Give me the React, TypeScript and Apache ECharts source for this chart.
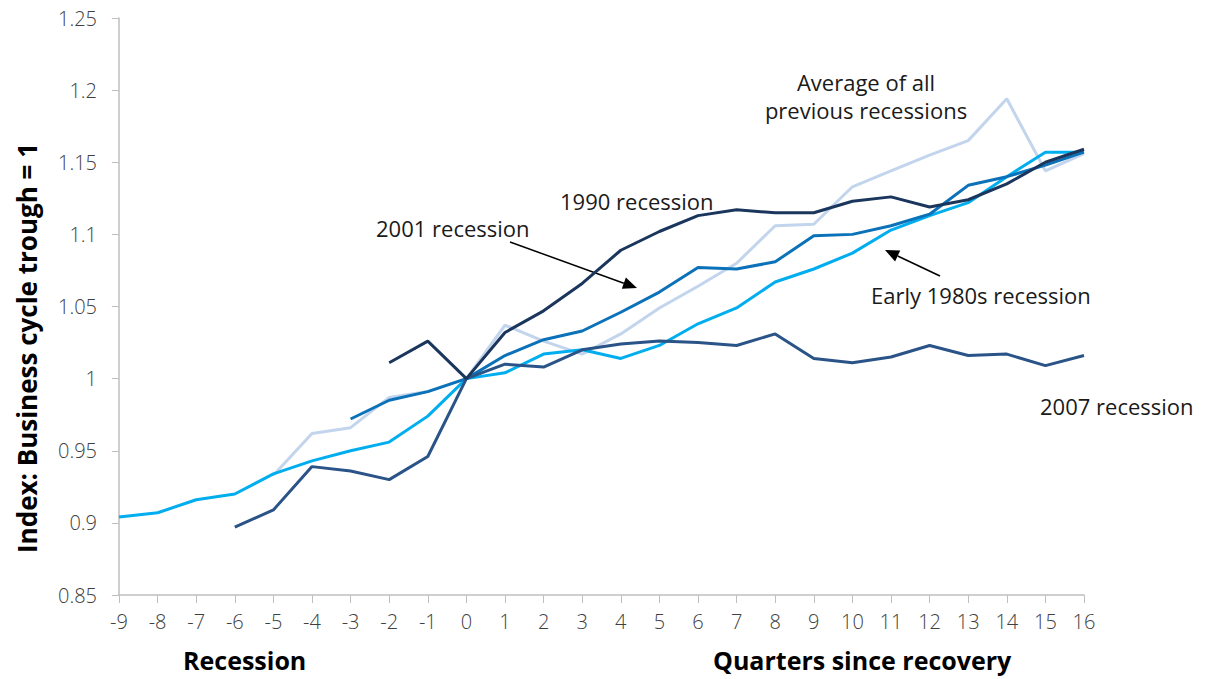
import React, { useEffect, useRef } from "react";
import * as echarts from "echarts";

const quarters = ["-9","-8","-7","-6","-5","-4","-3","-2","-1","0","1","2","3","4","5","6","7","8","9","10","11","12","13","14","15","16"];

const early1980s = [0.904,0.907,0.916,0.920,0.934,0.943,0.950,0.956,0.974,1.0,1.004,1.017,1.020,1.014,1.023,1.038,1.049,1.067,1.076,1.087,1.103,1.113,1.122,1.140,1.157,1.157];
const rec1990 = [null,null,null,null,null,null,null,1.011,1.026,1.0,1.032,1.047,1.066,1.089,1.102,1.113,1.117,1.115,1.115,1.123,1.126,1.119,1.124,1.135,1.150,1.159];
const rec2001 = [null,null,null,null,null,null,0.972,0.985,0.991,1.0,1.016,1.027,1.033,1.046,1.060,1.077,1.076,1.081,1.099,1.100,1.106,1.114,1.134,1.140,1.148,1.157];
const average = [null,null,null,null,0.933,0.962,0.966,0.987,0.991,1.0,1.037,1.026,1.017,1.031,1.049,1.064,1.080,1.106,1.107,1.133,1.144,1.155,1.165,1.194,1.144,1.156];
const rec2007 = [null,null,null,0.897,0.909,0.939,0.936,0.930,0.946,1.0,1.010,1.008,1.020,1.024,1.026,1.025,1.023,1.031,1.014,1.011,1.015,1.023,1.016,1.017,1.009,1.016];

const yTicks = { min: 0.85, max: 1.25, interval: 0.05 };

const TXT = "#1a1a1a";
const FONT = "'Open Sans', sans-serif";

function arrow(x1: number, y1: number, x2: number, y2: number) {
  const ang = Math.atan2(y2 - y1, x2 - x1);
  const len = 14, w = 6;
  const bx = x2 - len * Math.cos(ang), by = y2 - len * Math.sin(ang);
  const px = -Math.sin(ang) * w, py = Math.cos(ang) * w;
  return [
    { type: "line", shape: { x1, y1, x2: bx, y2: by }, style: { stroke: "#000", lineWidth: 1.5 } },
    { type: "polygon", shape: { points: [[x2, y2], [bx + px, by + py], [bx - px, by - py]] }, style: { fill: "#000" } },
  ];
}

export default function App() {
  const ref = useRef<HTMLDivElement>(null);
  useEffect(() => {
    const chart = echarts.init(ref.current!, null, { renderer: "svg" });
    const mk = (name: string, data: any[], color: string, z: number) => ({
      name, type: "line", data, symbol: "none", z,
      lineStyle: { color, width: 3 }, itemStyle: { color },
      connectNulls: false,
    });
    const txt = (text: string, x: number, y: number, align = "left") => ({
      type: "text", x, y,
      style: { text, fill: TXT, font: `22px ${FONT}`, textAlign: align, textVerticalAlign: "middle" },
    });
    chart.setOption({
      animation: false,
      grid: { left: 119, right: 123, top: 18, bottom: 84, containLabel: false, outerBoundsMode: "none" },
      xAxis: {
        type: "category", data: quarters, boundaryGap: false,
        axisLine: { lineStyle: { color: "#bfbfbf", width: 1.5 } },
        axisTick: { alignWithLabel: true, length: 8, lineStyle: { color: "#bfbfbf" } },
        axisLabel: { color: "#404040", fontSize: 20, fontFamily: FONT, fontWeight: 300, margin: 16, interval: 0 },
      },
      yAxis: {
        type: "value", min: yTicks.min, max: yTicks.max, interval: yTicks.interval,
        splitLine: { show: false },
        axisLine: { show: true, lineStyle: { color: "#bfbfbf", width: 1.5 } },
        axisTick: { show: true, length: 7, lineStyle: { color: "#bfbfbf" } },
        axisLabel: { color: "#404040", fontSize: 20, fontFamily: FONT, fontWeight: 300, margin: 22,
          formatter: (v: number) => String(parseFloat(v.toFixed(2))) },
      },
      series: [
        mk("Average of all previous recessions", average, "#c3d5ec", 1),
        mk("Early 1980s recession", early1980s, "#00aeef", 2),
        mk("2001 recession", rec2001, "#0b72b9", 3),
        mk("2007 recession", rec2007, "#2a5388", 4),
        mk("1990 recession", rec1990, "#1b365d", 5),
      ],
      graphic: [
        {
          type: "text", x: 27, y: 348, rotation: Math.PI / 2,
          style: { text: "Index: Business cycle trough = 1", fill: "#000", font: `bold 26px ${FONT}`, textAlign: "center", textVerticalAlign: "middle" },
        },
        txt("Average of all", 866, 82, "center"),
        txt("previous recessions", 866, 110, "center"),
        txt("1990 recession", 560, 201),
        txt("2001 recession", 376, 228),
        txt("Early 1980s recession", 871, 295),
        txt("2007 recession", 1040, 406),
        ...arrow(510, 242, 637, 288),
        ...arrow(940, 276, 885, 250),
        { type: "text", x: 183, y: 660, style: { text: "Recession", fill: "#000", font: `bold 25px ${FONT}`, textVerticalAlign: "middle" } },
        { type: "text", x: 713, y: 660, style: { text: "Quarters since recovery", fill: "#000", font: `bold 25px ${FONT}`, textVerticalAlign: "middle" } },
      ],
    });
    return () => chart.dispose();
  }, []);
  return <div ref={ref} style={{ width: 1207, height: 679, position: "absolute", left: 0, top: 0 }} />;
}
